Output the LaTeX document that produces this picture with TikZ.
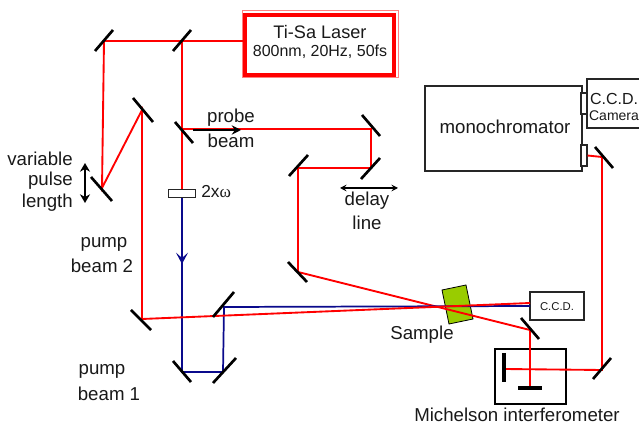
\documentclass[tikz,border=0pt]{standalone}
\usepackage{fontspec}
\setmainfont{Liberation Sans}
\newfontfamily\greekfont{Liberation Serif}
\usetikzlibrary{arrows.meta}
\definecolor{beamred}{RGB}{255,0,0}
\definecolor{beamblue}{RGB}{10,10,140}
\definecolor{samplegreen}{RGB}{153,204,0}
\tikzset{
  x=0.75pt,y=-0.75pt,
  redbeam/.style={draw=beamred,line width=1.4pt},
  bluebeam/.style={draw=beamblue,line width=1.3pt},
  mirror/.style={draw=black,line width=2pt},
  flatmirror/.style={draw=black,line width=2.4pt},
  box/.style={draw=black!85,line width=0.8pt,fill=white,inner sep=0pt},
  txt/.style={font=\fontsize{14}{16}\selectfont,inner sep=0pt,text=black!90},
  dbl/.style={draw=black,line width=0.8pt,{Stealth[length=5pt,width=5pt,inset=2pt]}-{Stealth[length=5pt,width=5pt,inset=2pt]}},
  dblv/.style={draw=black,line width=1.1pt,{Stealth[length=6.5pt,width=7.5pt,inset=2pt]}-{Stealth[length=6.5pt,width=7.5pt,inset=2pt]}},
}
\begin{document}
\begin{tikzpicture}
\useasboundingbox (0,0) rectangle (639,427);
% beam hit points
\coordinate (m1) at (104,41);
\coordinate (m2) at (182,41);
\coordinate (m3) at (102,188);
\coordinate (m4) at (142,110);
\coordinate (m5) at (142,319);
\coordinate (bs) at (182,129);
\coordinate (d1) at (371,129);
\coordinate (d2) at (371,168);
\coordinate (d3) at (298,168);
\coordinate (d4) at (298,272);
\coordinate (b1) at (182,372);
\coordinate (b2) at (223,372);
\coordinate (b3) at (224,307);
\coordinate (ccdin) at (530,303);
\coordinate (ccdinb) at (530,306);
\coordinate (m6) at (530,330);
\coordinate (me) at (530,388);
\coordinate (mv) at (504,369);
\coordinate (m7) at (602,370);
\coordinate (m8) at (602,157);
% boxes
\node[box,minimum width=117.75pt,minimum height=63.75pt] (mono) at (503.5,128.5) {};
\node[txt] (monot) at (505,127) {monochromator};
\node[box,minimum width=4.5pt,minimum height=15.75pt] (port1) at (584,103.5) {};
\node[box,minimum width=4.5pt,minimum height=15.75pt] (port2) at (584,155.5) {};
\draw[draw=black!85,line width=0.8pt] (640,79) -- (587,79) -- (587,128) -- (640,128);
\node[inner sep=0pt,text=black!90,font=\fontsize{12}{14}\selectfont] (ccdcam) at (614,99) {C.C.D.};
\node[inner sep=0pt,text=black!90,font=\fontsize{10.5}{12}\selectfont] (camera) at (614,116) {Camera};
\node[box,minimum width=40.5pt,minimum height=21pt] (ccd) at (557,306) {};
\node[inner sep=0pt,text=black!90,font=\fontsize{8.5}{10}\selectfont] (ccdt) at (557,306.5) {C.C.D.};
\node[box,draw=black,minimum width=53.25pt,minimum height=41.25pt] (mich) at (530.5,376.5) {};
% sample
\draw[draw=black,line width=0.6pt,fill=samplegreen] (442,290) -- (466,285) -- (473,319) -- (449,324) -- cycle;
% laser
\draw[draw=beamred!50,line width=0.7pt] (242,10) rectangle (398,77);
\node[draw=beamred,line width=3pt,minimum width=111.75pt,minimum height=45pt,inner sep=0pt] (laser) at (319.5,45) {};
\node[inner sep=0pt,text=black!90,font=\fontsize{13.6}{16}\selectfont] (lt1) at (320,32) {Ti-Sa Laser};
\node[inner sep=0pt,text=black!90,font=\fontsize{12}{14}\selectfont] (lt2) at (320,52) {800nm, 20Hz, 50fs};
% red beams
\draw[redbeam] (m1 -| laser.west) -- (m1) -- (m3) -- (m4) -- (m5);
\draw[redbeam] (m2) -- (bs);
\draw[redbeam] (bs) -- (d1) -- (d2) -- (d3) -- (d4) -- (m6) -- (me);
\draw[redbeam] (mv) -- (m7) -- (m8) -- (port2.east);
\draw[redbeam] (bs) -- (182,190);
% blue beam
\draw[bluebeam] (182,197) -- (b1) -- (b2) -- (b3) -- (ccdinb);
\draw[draw=beamblue,line width=1.3pt,-{Stealth[length=8.5pt,width=9pt,inset=4pt]}] (182,245) -- (182,264);
% pump beam over the blue beam
\draw[redbeam] (m5) -- (ccdin);
% waveplate
\node[draw=black!85,fill=white,line width=0.7pt,minimum width=20.5pt,minimum height=6pt,inner sep=0pt] (plate) at (182,193) {};
\node[inner sep=0pt,anchor=west,text=black!90,font=\fontsize{13}{14}\selectfont] (wl) at (201,192) {2x{\greekfont ω}};
% probe arrow
\draw[draw=black,line width=1pt,-{Stealth[length=7pt,width=7pt,inset=2.5pt]}] (193,130) -- (241,130);
% mirrors
\draw[mirror] (95,51) -- (113,30);
\draw[mirror] (173,51) -- (191,30);
\draw[mirror] (91,177) -- (112,201);
\draw[mirror] (133,98) -- (153,122);
\draw[mirror] (175,122) -- (193,143);
\draw[mirror] (131,310) -- (151,330);
\draw[mirror] (362,115) -- (380,136);
\draw[mirror] (361,179) -- (380,158);
\draw[mirror] (289,176) -- (308,155);
\draw[mirror] (288,262) -- (307,282);
\draw[mirror] (173,361) -- (191,382);
\draw[mirror] (213,383) -- (236,358);
\draw[mirror] (213,317) -- (234,292);
\draw[mirror] (521,318) -- (539,339);
\draw[mirror] (593,379) -- (611,358);
\draw[mirror] (595,147) -- (613,168);
\draw[flatmirror] (504,353) -- (504,382);
\draw[flatmirror] (518,388) -- (542,388);
% double arrows
\coordinate (va) at (85,163);
\coordinate (vb) at (85,203);
\draw[dblv] (va) -- (vb);
\coordinate (da) at (340,188);
\coordinate (db) at (398,188);
\draw[dbl] (da) -- (db);
% labels
\node[txt,anchor=east] (l1) at (73,159) {variable};
\node[txt,anchor=east] (l2) at (73,181) {pulse};
\node[txt,anchor=east] (l3) at (73,203) {length};
\node[txt] (l4) at (104,244) {pump};
\node[txt] (l5) at (102,266) {beam 2};
\node[txt] (l6) at (102,371) {pump};
\node[txt] (l7) at (109,394) {beam 1};
\node[txt] (l8) at (231,118) {probe};
\node[txt] (l9) at (231,141) {beam};
\node[txt] (l10) at (367,201) {delay};
\node[txt] (l11) at (367,223) {line};
\node[txt] (l12) at (422,335) {Sample};
\node[txt] (l13) at (517,415) {Michelson interferometer};
\end{tikzpicture}
\end{document}
